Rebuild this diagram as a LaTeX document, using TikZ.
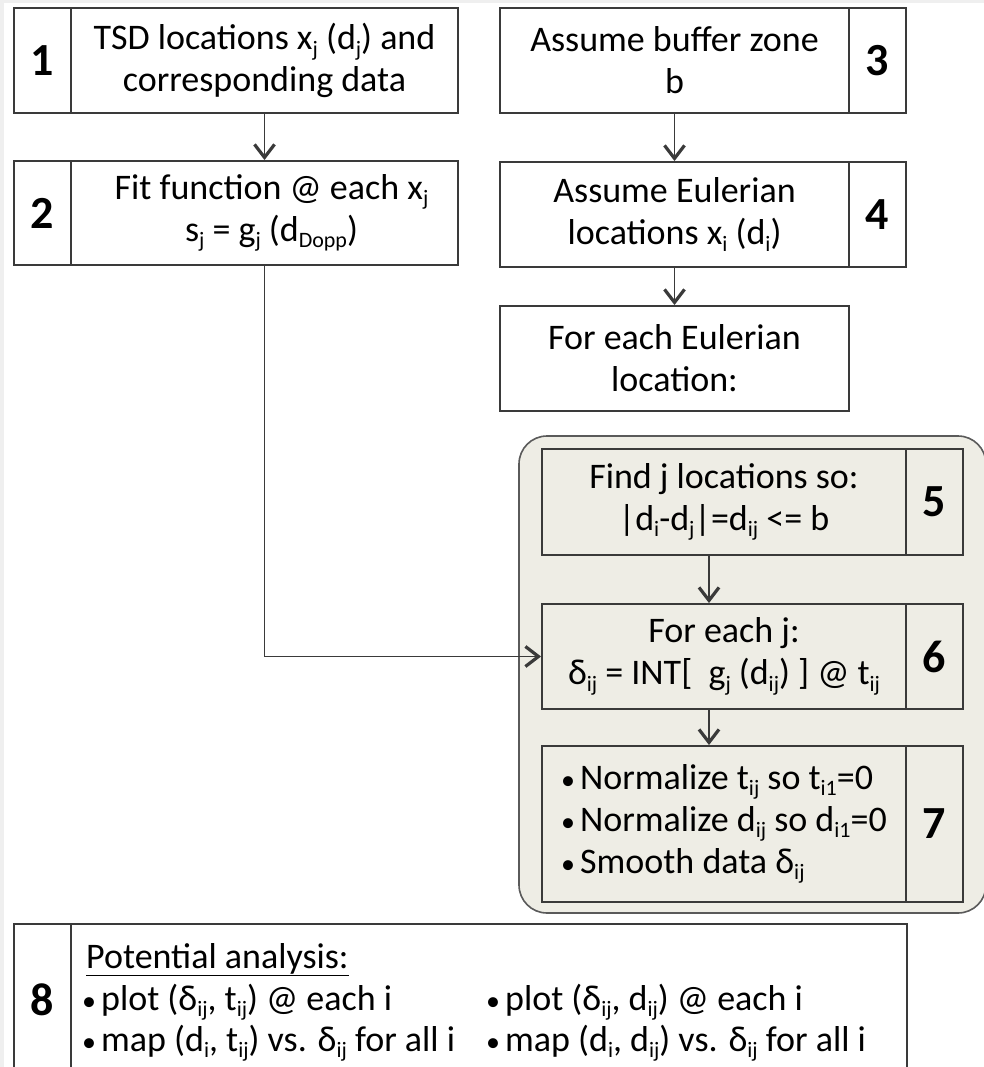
\documentclass[tikz,border=0pt]{standalone}
\usepackage{fontspec}
\setmainfont{Carlito}
\usetikzlibrary{arrows.meta}
\definecolor{boxline}{HTML}{3A3A3A}
\definecolor{grpfill}{HTML}{EEEDE5}
\definecolor{grpline}{HTML}{5A5A5A}
\definecolor{edgegray}{HTML}{EFEFEF}
\newcommand\lo[1]{\raisebox{-6.5pt}{\fontsize{22}{22}\selectfont #1}}
\newcommand\bul{{\fontsize{28}{28}\selectfont •}\hspace{5pt}}
\begin{document}
\begin{tikzpicture}[x=1pt,y=-1pt,
  box/.style={draw=boxline, line width=1.9pt, inner sep=0pt, font=\fontsize{36}{42}\selectfont, align=center},
  num/.style={box, font=\fontsize{46}{46}\selectfont\bfseries},
  txt/.style={inner sep=0pt, font=\fontsize{36}{42}\selectfont},
  conn/.style={draw=boxline, line width=1.6pt, -{Straight Barb[length=13pt,width=20pt,line width=3.2pt]}},
  group/.style={draw=grpline, fill=grpfill, line width=1.6pt, rounded corners=28pt},
]
\useasboundingbox (0,0) rectangle (984,1067);
\clip (0,0) rectangle (984,1067);
\fill[white] (0,0) rectangle (984,1067);
\fill[edgegray] (0,0) rectangle (4,1067);
\fill[edgegray] (0,0) rectangle (984,3);

% group background
\draw[group] (519,436) rectangle (986,913);

% box 1
\node[box, minimum width=387pt, minimum height=105pt] (b1t) at (264.5,60.5) {TSD locations x\lo{j} (d\lo{j}) and\\corresponding data};
\node[num, minimum width=57pt, minimum height=105pt] (b1n) at (42.5,60.5) {1};
% box 2
\node[box, minimum width=387pt, minimum height=104pt] (b2t) at (264.5,213) {\hspace*{14pt}Fit function @ each x\lo{j}\\\hspace*{14pt}s\lo{j} = g\lo{j} (d\lo{Dopp})};
\node[num, minimum width=57pt, minimum height=104pt] (b2n) at (42.5,213) {2};
% box 3
\node[box, minimum width=349pt, minimum height=105pt] (b3t) at (674.5,60.5) {Assume buffer zone\\b};
\node[num, minimum width=57pt, minimum height=105pt] (b3n) at (877.5,60.5) {3};
% box 4
\node[box, minimum width=349pt, minimum height=105pt] (b4t) at (674.5,214.5) {Assume Eulerian\\locations x\lo{i} (d\lo{i})};
\node[num, minimum width=57pt, minimum height=105pt] (b4n) at (877.5,214.5) {4};
% for each
\node[box, minimum width=349pt, minimum height=105pt] (fe) at (674.5,358.5) {For each Eulerian\\location:};
% box 5
\node[box, minimum width=364pt, minimum height=106pt] (b5t) at (724,502) {Find j locations so:\\|d\lo{i}-d\lo{j}|=d\lo{ij} <= b};
\node[num, minimum width=57pt, minimum height=106pt] (b5n) at (934.5,502) {5};
% box 6
\node[box, minimum width=364pt, minimum height=105pt] (b6t) at (724,656.5) {For each j:\\δ\lo{ij} = INT[~ g\lo{j} (d\lo{ij}) ] @ t\lo{ij}};
\node[num, minimum width=57pt, minimum height=105pt] (b6n) at (934.5,656.5) {6};
% box 7
\node[box, minimum width=364pt, minimum height=156pt, align=left] (b7t) at (724,824) {\bul Normalize t\lo{ij} so t\lo{i1}=0\hspace*{4pt}\\\bul Normalize d\lo{ij} so d\lo{i1}=0\hspace*{4pt}\\\bul Smooth data δ\lo{ij}};
\node[num, minimum width=57pt, minimum height=156pt] (b7n) at (934.5,824) {7};
% box 8
\node[box, minimum width=836pt, minimum height=180pt] (b8t) at (489,1014) {};
\node[num, minimum width=57pt, minimum height=180pt] (b8n) at (42.5,1014) {};
\node[num, draw=none] (b8lbl) at (42.5,1000) {8};
\node[txt, anchor=base west] (p1) at (86,968) {\underline{Potential analysis:}};
\node[txt, anchor=base west] (p2) at (82,1010) {\bul plot (δ\lo{ij}, t\lo{ij}) @ each i};
\node[txt, anchor=base west] (p3) at (82,1051) {\bul map (d\lo{i}, t\lo{ij}) vs. δ\lo{ij} for all i};
\node[txt, anchor=base west] (p4) at (486,1010) {\bul plot (δ\lo{ij}, d\lo{ij}) @ each i};
\node[txt, anchor=base west] (p5) at (486,1051) {\bul map (d\lo{i}, d\lo{ij}) vs. δ\lo{ij} for all i};

% connectors
\draw[conn] (b1t.south) -- (b2t.north);
\draw[conn] (b3t.south) -- (b4t.north);
\draw[conn] (b4t.south) -- (fe.north);
\draw[conn] ([xshift=-15pt]b5t.south) -- ([xshift=-15pt]b6t.north);
\draw[conn] ([xshift=-15pt]b6t.south) -- ([xshift=-15pt]b7t.north);
\draw[conn] (b2t.south) |- (b6t.west);
\end{tikzpicture}
\end{document}
